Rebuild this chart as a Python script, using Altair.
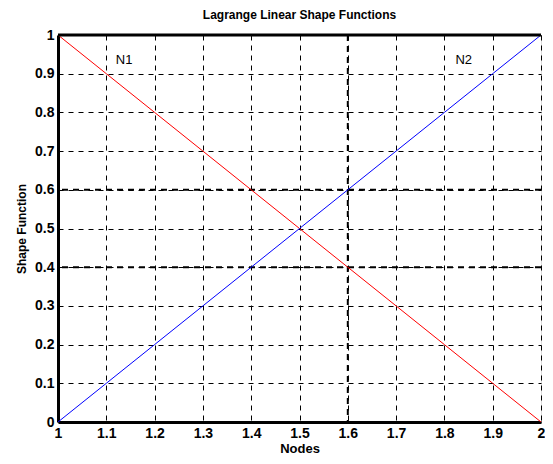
import altair as alt
import pandas as pd

nodes = [1.0, 1.1, 1.2, 1.3, 1.4, 1.5, 1.6, 1.7, 1.8, 1.9, 2.0]
n1 = [1.0, 0.9, 0.8, 0.7, 0.6, 0.5, 0.4, 0.3, 0.2, 0.1, 0.0]
n2 = [0.0, 0.1, 0.2, 0.3, 0.4, 0.5, 0.6, 0.7, 0.8, 0.9, 1.0]
x_ticks = [1.0, 1.1, 1.2, 1.3, 1.4, 1.5, 1.6, 1.7, 1.8, 1.9, 2.0]
y_ticks = [0.0, 0.1, 0.2, 0.3, 0.4, 0.5, 0.6, 0.7, 0.8, 0.9, 1.0]
thick_x_grid = [1.6]
thick_y_grid = [0.4, 0.6]
label_names = ["N1", "N2"]
label_x = [1.137, 1.84]
label_y = [0.935, 0.935]

df = pd.DataFrame({"x": nodes * 2, "y": n1 + n2,
                   "s": ["N1"] * len(nodes) + ["N2"] * len(nodes)})
lab = pd.DataFrame({"x": label_x, "y": label_y, "t": label_names})
tx = pd.DataFrame({"x": thick_x_grid})
ty = pd.DataFrame({"y": thick_y_grid})
top = pd.DataFrame({"y": [1.0]})

xs = alt.Scale(domain=[1, 2], nice=False, zero=False)
ys = alt.Scale(domain=[0, 1], nice=False)

axis_common = dict(format="~g", grid=True, gridDash=[5, 5],
                   gridColor="black", gridOpacity=1, gridWidth=1,
                   domainColor="black", domainWidth=3, ticks=False,
                   labelFont="Liberation Sans", labelFontWeight="bold",
                   labelFontSize=14, labelColor="black", labelPadding=4,
                   labelOverlap=False, labelFlush=False,
                   titleFont="Liberation Sans", titleFontWeight="bold",
                   titleColor="black")
x_axis = alt.Axis(values=x_ticks, titleFontSize=13, titlePadding=2, **axis_common)
y_axis = alt.Axis(values=y_ticks, titleFontSize=12, titlePadding=6, **axis_common)

def X(field):
    return alt.X(field, scale=xs, title="Nodes", axis=x_axis)

def Y(field):
    return alt.Y(field, scale=ys, title="Shape Function", axis=y_axis)

lines = alt.Chart(df).mark_line(strokeWidth=1, clip=True).encode(
    x=X("x:Q"), y=Y("y:Q"),
    color=alt.Color("s:N", scale=alt.Scale(domain=["N1", "N2"], range=["#ff0000", "#0000ff"]),
                    legend=None),
)

thx = alt.Chart(tx).mark_rule(color="black", strokeWidth=2, strokeDash=[6, 5]).encode(x=X("x:Q"))
thy = alt.Chart(ty).mark_rule(color="black", strokeWidth=2, strokeDash=[6, 5]).encode(y=Y("y:Q"))
topr = alt.Chart(top).mark_rule(color="black", strokeWidth=3).encode(y=Y("y:Q"))

texts = alt.Chart(lab).mark_text(font="Liberation Sans", fontSize=13, color="black").encode(
    x=X("x:Q"), y=Y("y:Q"), text="t:N")

chart = alt.layer(thx, thy, lines, topr, texts).properties(
    width=483, height=387,
    title=alt.TitleParams("Lagrange Linear Shape Functions", font="Liberation Sans",
                          fontSize=12, fontWeight="bold", color="black", offset=6),
    autosize=alt.AutoSizeParams(type="none"),
    padding={"left": 50, "top": 27, "right": 4, "bottom": 34},
).configure_view(fill="#f9f9f9", stroke="black", strokeWidth=1).configure(background="white")

chart.save("out.html", embed_options={"renderer": "svg", "actions": False})
